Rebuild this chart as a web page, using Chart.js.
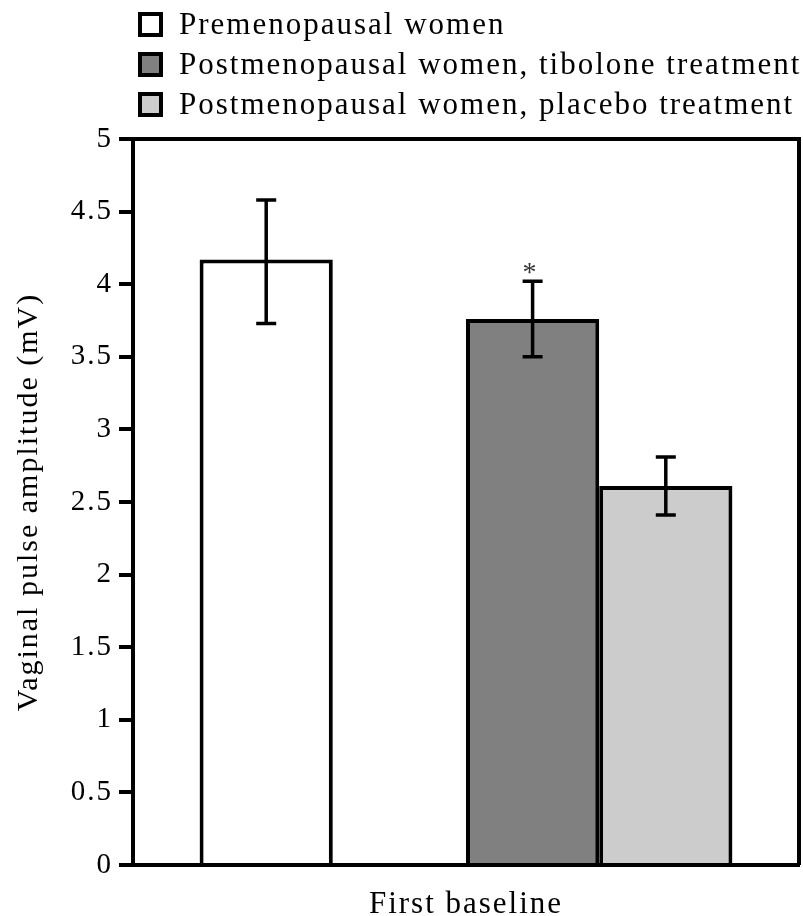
<!DOCTYPE html>
<html>
<head>
<meta charset="utf-8">
<script src="https://cdn.jsdelivr.net/npm/chart.js@4.4.1/dist/chart.umd.min.js"></script>
<style>
  body { margin: 0; background: #fff; }
  #wrap { position: relative; width: 803px; height: 916px; }
  #legend { position: absolute; left: 138px; top: 0; font-family: "Liberation Serif", serif; font-size: 31px; letter-spacing: 2px; color: #000; }
  .row { position: absolute; left: 0; height: 40px; white-space: nowrap; display: flex; align-items: center; }
  .box { width: 17px; height: 17px; border: 4px solid #000; margin-right: 16px; flex: none; }
</style>
</head>
<body>
<div id="wrap">
  <canvas id="chart" width="803" height="916"></canvas>
  <div id="legend"></div>
</div>
<script>
// data
const categories = ['First baseline'];
const groupNames = ['Premenopausal women', 'Postmenopausal women, tibolone treatment', 'Postmenopausal women, placebo treatment'];
const premenopausal = [4.17];
const tibolone = [3.76];
const placebo = [2.61];
const errPremenopausal = [[3.73, 4.58]];
const errTibolone = [[3.50, 4.02]];
const errPlacebo = [[2.41, 2.81]];
const yTicks = [0, 0.5, 1, 1.5, 2, 2.5, 3, 3.5, 4, 4.5, 5];

const barColors = ['#ffffff', '#808080', '#cccccc'];
const FONT = '"Liberation Serif", serif';

// html legend
const legend = document.getElementById('legend');
const rowTops = [4, 44, 84];
groupNames.forEach((name, i) => {
  const row = document.createElement('div');
  row.className = 'row';
  row.style.top = rowTops[i] + 'px';
  const box = document.createElement('span');
  box.className = 'box';
  box.style.background = barColors[i];
  const txt = document.createElement('span');
  txt.textContent = name;
  row.appendChild(box);
  row.appendChild(txt);
  legend.appendChild(row);
});

// error bars + asterisk, positioned through the scales
const errorBars = {
  id: 'errorBars',
  afterDatasetsDraw(chart) {
    const ctx = chart.ctx;
    const y = chart.scales.y;
    const errs = [errPremenopausal, null, errTibolone, errPlacebo];
    ctx.save();
    ctx.strokeStyle = '#000';
    ctx.lineWidth = 3.5;
    errs.forEach((err, di) => {
      if (!err) return;
      chart.getDatasetMeta(di).data.forEach((bar, i) => {
        const x = bar.x;
        const lo = y.getPixelForValue(err[i][0]);
        const hi = y.getPixelForValue(err[i][1]);
        ctx.beginPath();
        ctx.moveTo(x, lo); ctx.lineTo(x, hi);
        ctx.moveTo(x - 10, lo); ctx.lineTo(x + 10, lo);
        ctx.moveTo(x - 10, hi); ctx.lineTo(x + 10, hi);
        ctx.stroke();
      });
    });
    // significance mark above tibolone bar
    const bar = chart.getDatasetMeta(2).data[0];
    ctx.fillStyle = '#333';
    ctx.font = '28px ' + FONT;
    ctx.letterSpacing = '0px';
    ctx.textAlign = 'center';
    ctx.textBaseline = 'middle';
    ctx.fillText('*', bar.x - 3, y.getPixelForValue(errTibolone[0][1]) - 8);
    ctx.restore();
  }
};

// top and right frame of the plot
const frame = {
  id: 'frame',
  afterDraw(chart) {
    const { ctx, chartArea: a } = chart;
    ctx.save();
    ctx.strokeStyle = '#000';
    ctx.lineWidth = 4;
    ctx.beginPath();
    ctx.moveTo(a.left, a.top);
    ctx.lineTo(a.right, a.top);
    ctx.lineTo(a.right, a.bottom);
    ctx.stroke();
    ctx.restore();
  }
};

// wider tracking for the serif text
const tracking = {
  id: 'tracking',
  beforeLayout(chart) { chart.ctx.letterSpacing = '2px'; },
  beforeDraw(chart) { chart.ctx.letterSpacing = '2px'; }
};

new Chart(document.getElementById('chart').getContext('2d'), {
  type: 'bar',
  data: {
    labels: categories,
    datasets: [
      { label: groupNames[0], data: premenopausal, backgroundColor: barColors[0] },
      { label: '', data: [null] },
      { label: groupNames[1], data: tibolone, backgroundColor: barColors[1] },
      { label: groupNames[2], data: placebo, backgroundColor: barColors[2] }
    ].map(d => Object.assign({ borderColor: '#000', borderWidth: 4 }, d))
  },
  options: {
    responsive: false,
    animation: false,
    categoryPercentage: 0.8,
    barPercentage: 1,
    layout: { padding: { top: 139, right: 4, left: 0, bottom: 0 } },
    plugins: { legend: { display: false }, tooltip: { enabled: false } },
    scales: {
      x: {
        grid: { display: false },
        border: { color: '#000', width: 4 },
        ticks: { color: '#000', font: { family: FONT, size: 31 }, padding: 13 },
        afterFit(s) { s.height = 51; }
      },
      y: {
        min: 0,
        max: 5,
        afterBuildTicks(s) { s.ticks = yTicks.map(v => ({ value: v })); },
        grid: { drawOnChartArea: false, drawTicks: true, tickLength: 14, color: '#000', lineWidth: 4 },
        border: { color: '#000', width: 4 },
        ticks: {
          color: '#000',
          font: { family: FONT, size: 29 },
          padding: 6,
          callback: v => String(v)
        },
        title: {
          display: true,
          text: 'Vaginal pulse amplitude (mV)',
          color: '#000',
          font: { family: FONT, size: 30 },
          padding: { top: 11 }
        },
        afterFit(s) { s.width = 133; }
      }
    }
  },
  plugins: [tracking, errorBars, frame]
});
</script>
</body>
</html>
